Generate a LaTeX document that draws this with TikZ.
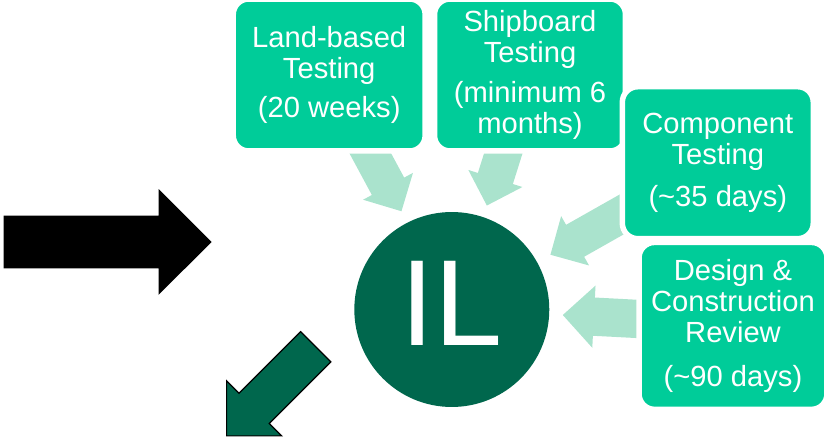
\documentclass[tikz,border=0pt]{standalone}
\usepackage{fontspec}
\setmainfont{Liberation Sans}
\usetikzlibrary{shapes.arrows}
\definecolor{boxgreen}{RGB}{0,204,153}
\definecolor{palegreen}{RGB}{170,227,205}
\definecolor{darkgreen}{RGB}{0,103,77}
\tikzset{
  stage/.style={rectangle, fill=boxgreen, draw=white, line width=0.11cm,
    rounded corners=0.31cm, text=white, align=center, inner sep=0pt,
    font=\fontsize{16.6}{17.6}\selectfont},
  feed/.style={single arrow, anchor=tip, fill=palegreen, inner xsep=0pt,
    inner ysep=0.36cm, minimum width=1.12cm, single arrow head extend=0.2cm},
  fat/.style={single arrow, anchor=tip, inner xsep=0pt}
}
\begin{document}
\begin{tikzpicture}[x=0.02cm, y=-0.02cm]
      \useasboundingbox (0,0) rectangle (825,438);
      \node[feed, rotate=-61.7, minimum height=1.7cm] (arrland) at (401.7,211.7) {};
      \node[feed, rotate=-107.5, minimum height=1.7cm] (arrship) at (486.7,206) {};
      \node[feed, rotate=209.5, minimum height=2cm] (arrcomp) at (550,255) {};
      \node[feed, rotate=177, minimum height=2cm, minimum width=1.24cm, inner ysep=0.376cm,
        single arrow head extend=0.24cm] (arrdesign) at (562.3,315) {};
      \node[stage, minimum width=3.84cm, minimum height=3.04cm] (landtest) at (329.2,75)
        {Land-based\\Testing\\[5pt](20 weeks)};
      \node[stage, minimum width=3.82cm, minimum height=3.04cm] (shiptest) at (530,75)
        {Shipboard\\Testing\\[5.5pt](minimum 6\\months)};
      \node[stage, minimum width=3.82cm, minimum height=3.04cm] (comptest) at (717.8,162.7)
        {Component\\Testing\\[6pt](\textasciitilde35 days)};
      \node[stage, minimum width=3.76cm, minimum height=3.34cm] (designrev) at (733,325.9)
        {Design \&\\Construction\\Review\\[7.5pt](\textasciitilde90 days)};
      \node[circle, fill=darkgreen, text=white, minimum size=3.9cm, inner sep=0pt,
        text depth=0.25cm, font=\fontsize{69.7}{70}\selectfont] (il) at (451.8,309.5) {IL};
      \node[fat, fill=black, inner ysep=0.52cm, minimum height=4.16cm, minimum width=2.1cm,
        single arrow head extend=0.53cm] (inarrow) at (212,242) {};
      \node[fat, rotate=225, fill=darkgreen, draw=black, line width=0.7pt, inner ysep=0.417cm,
        minimum height=2.52cm, minimum width=1.54cm,
        single arrow head extend=0.35cm] (outarrow) at (226,436.5) {};
    \end{tikzpicture}
\end{document}
